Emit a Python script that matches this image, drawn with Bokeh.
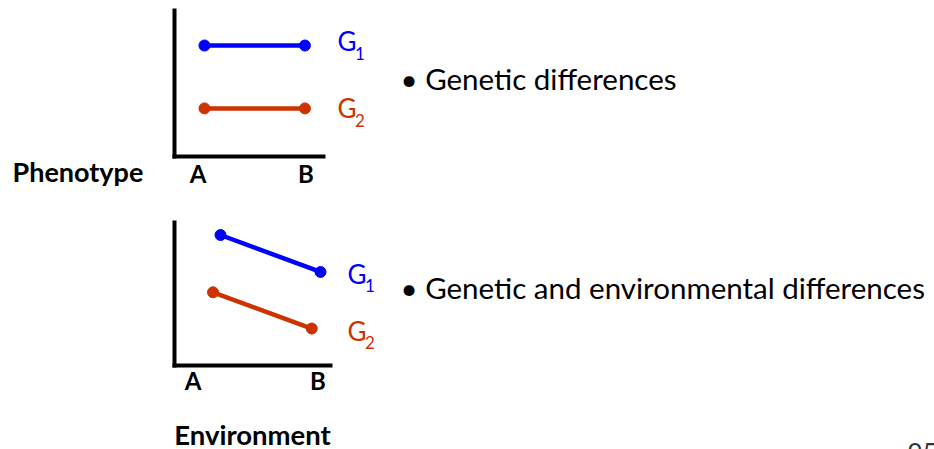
from bokeh.plotting import figure
from bokeh.models import Label, Range1d, FixedTicker, LinearAxis
from bokeh.embed import file_html
from bokeh.resources import INLINE

# ---------------- data ----------------
env_labels = ["A", "B"]
env_ticks = [0, 1]

# top panel: genetic differences only
top_x = [0.06, 0.99]
top_g1 = [7.5, 7.5]
top_g2 = [3.25, 3.25]

# bottom panel: genetic and environmental differences
bot_g1_x = [0.22, 1.02]
bot_g1 = [9.0, 6.45]
bot_g2_x = [0.16, 0.95]
bot_g2 = [5.05, 2.55]

geno_names = ["G", "G"]
geno_subs = ["1", "2"]
captions = ["\u2022 Genetic differences", "\u2022 Genetic and environmental differences"]
y_title = "Phenotype"
x_title = "Environment"
page_number = "95"

BLUE = "#0000FF"
RED = "#CC3300"
FONT = "Lato"
W, H = 934, 449

# ---------------- layout (page pixels) ----------------
TOP = dict(a=197.5, ppu=108.0, base=156.0, ppuy=14.8, left=174, right=323, top=10, standoff=2)
BOT = dict(a=192.5, ppu=125.0, base=365.0, ppuy=14.5, left=174, right=330, top=222, standoff=0)


def xr(c):
    return Range1d((0 - c["a"]) / c["ppu"], (W - c["a"]) / c["ppu"])


def yr(c):
    return Range1d((c["base"] - H) / c["ppuy"], (c["base"] - 0) / c["ppuy"])


def dx(c, px):
    return (px - c["a"]) / c["ppu"]


def dy(c, py):
    return (c["base"] - py) / c["ppuy"]


p = figure(width=W, height=H, output_backend="svg", toolbar_location=None,
           x_range=Range1d(0, W), y_range=Range1d(H, 0),
           x_axis_type=None, y_axis_type=None,
           min_border_left=0, min_border_right=0, min_border_top=0, min_border_bottom=0)
p.outline_line_color = None
p.grid.visible = False
p.background_fill_color = "white"
p.border_fill_color = "white"
p.extra_x_ranges = {"tx": xr(TOP), "bx": xr(BOT)}
p.extra_y_ranges = {"ty": yr(TOP), "by": yr(BOT)}


def add_axes(c, xn, yn):
    xa = LinearAxis(x_range_name=xn, y_range_name=yn, fixed_location=0,
                    bounds=(dx(c, c["left"]), dx(c, c["right"])),
                    ticker=FixedTicker(ticks=env_ticks),
                    major_label_overrides={t: l for t, l in zip(env_ticks, env_labels)})
    ya = LinearAxis(x_range_name=xn, y_range_name=yn, fixed_location=dx(c, c["left"]),
                    bounds=(0, dy(c, c["top"])), ticker=FixedTicker(ticks=[]))
    for ax in (xa, ya):
        ax.axis_line_width = 4
        ax.axis_line_color = "black"
        ax.axis_line_cap = "square"
        ax.major_tick_line_color = None
        ax.minor_tick_line_color = None
        ax.major_tick_out = 0
        ax.major_tick_in = 0
    ya.major_label_text_font_size = "0px"
    xa.major_label_text_font = FONT
    xa.major_label_text_font_style = "bold"
    xa.major_label_text_font_size = "24px"
    xa.major_label_text_color = "black"
    xa.major_label_standoff = c["standoff"]
    p.add_layout(xa, "below")
    p.add_layout(ya, "left")
    return xa


def series(xn, yn, xs, ys, color, name, sub, lx, cy):
    p.line(xs, ys, line_color=color, line_width=4.5, x_range_name=xn, y_range_name=yn)
    p.scatter(xs, ys, size=11, fill_color=color, line_color=color,
              x_range_name=xn, y_range_name=yn)
    p.add_layout(Label(x=lx, y=cy, text=name, text_color=color, text_font=FONT,
                       text_font_size="26px", text_baseline="middle", text_align="left"))
    p.add_layout(Label(x=lx + 17.5, y=cy + 12, text=sub, text_color=color, text_font=FONT,
                       text_font_size="17px", text_baseline="middle", text_align="left"))


# ---------- top panel ----------
add_axes(TOP, "tx", "ty")
series("tx", "ty", top_x, top_g1, BLUE, geno_names[0], geno_subs[0], 337, 40.5)
series("tx", "ty", top_x, top_g2, RED, geno_names[1], geno_subs[1], 337, 107.5)
p.add_layout(Label(x=400, y=77.5, text=captions[0], text_font=FONT,
                   text_font_size="29.5px", text_baseline="middle", text_color="black"))
p.add_layout(Label(x=12, y=170.5, text=y_title, text_font=FONT,
                   text_font_style="bold", text_font_size="27px",
                   text_baseline="middle", text_color="black"))

# ---------- bottom panel ----------
xa2 = add_axes(BOT, "bx", "by")
series("bx", "by", bot_g1_x, bot_g1, BLUE, geno_names[0], geno_subs[0], 347, 273)
series("bx", "by", bot_g2_x, bot_g2, RED, geno_names[1], geno_subs[1], 347, 330)
p.add_layout(Label(x=400, y=287, text=captions[1], text_font=FONT,
                   text_font_size="29.5px", text_baseline="middle", text_color="black"))
xa2.axis_label = x_title
xa2.axis_label_text_font = FONT
xa2.axis_label_text_font_style = "bold"
xa2.axis_label_text_font_size = "27.5px"
xa2.axis_label_text_color = "black"
xa2.axis_label_standoff = 20

# slide page number, cut by the bottom edge as in the original
p.add_layout(Label(x=907, y=452, text=page_number, text_font=FONT,
                   text_font_size="26px", text_baseline="middle", text_color="#333333"))

open("out.html", "w").write(file_html(p, INLINE))
